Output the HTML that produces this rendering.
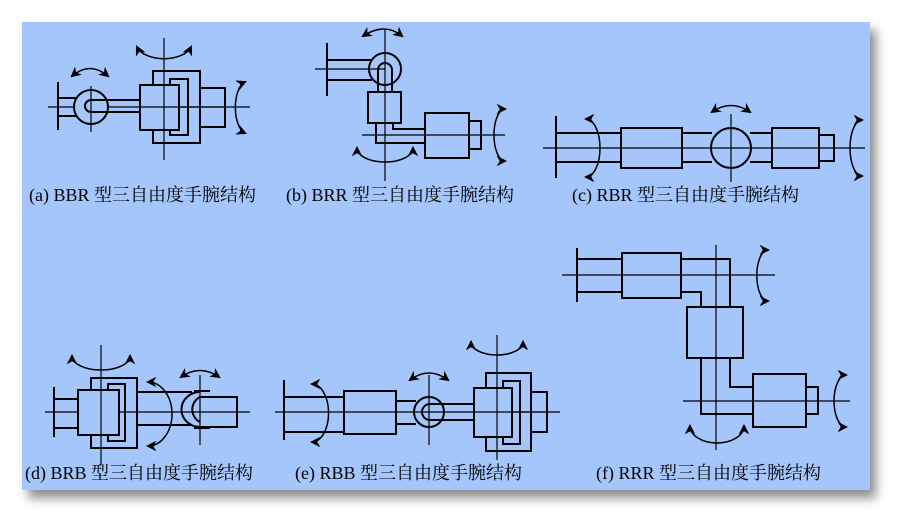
<!DOCTYPE html>
<html><head><meta charset="utf-8"><style>
html,body{margin:0;padding:0;background:#fff;}
body{width:912px;height:532px;position:relative;overflow:hidden;}
#panel{position:absolute;left:22px;top:22px;width:848px;height:468px;background:#a4c6fb;box-shadow:6px 8px 10px rgba(0,0,0,0.45);}
svg{position:absolute;left:0;top:0;}
text{font-family:"Liberation Serif","Noto Serif CJK SC",serif;font-size:18px;fill:#000;}
</style></head><body>
<div id="panel"></div>
<svg width="912" height="532" viewBox="0 0 912 532">
<defs>
<marker id="ah" viewBox="0 0 10 10" refX="8" refY="5" markerWidth="7" markerHeight="7" orient="auto-start-reverse"><path d="M0,0 L10,5 L0,10 L3,5 z" fill="#000"/></marker>
</defs>
<g fill="none" stroke="#000" stroke-width="2">
<!-- (a) -->
<line x1="48" y1="107" x2="250" y2="107" stroke-width="1.2"/>
<line x1="58" y1="82" x2="58" y2="130"/>
<rect x="58" y="98" width="18" height="18"/>
<circle cx="91" cy="107" r="17" fill="#a4c6fb"/>
<path d="M140,100 L91,100 A6,6 0 0 0 91,112 L140,112"/>
<line x1="91" y1="86" x2="91" y2="132" stroke-width="1.2"/>
<rect x="153" y="71" width="47" height="72"/>
<rect x="170" y="79" width="18" height="56"/>
<rect x="140" y="85" width="39" height="45" fill="#a4c6fb"/>
<rect x="200" y="88" width="25" height="39"/>
<line x1="164" y1="38" x2="164" y2="160" stroke-width="1.2"/>
<line x1="140" y1="107" x2="225" y2="107" stroke-width="1.2"/>
<path d="M137,47 A28,16 0 0 0 191,47" stroke-width="1.5" marker-start="url(#ah)" marker-end="url(#ah)"/>
<path d="M72,76 Q90,61 108,76" stroke-width="1.5" marker-start="url(#ah)" marker-end="url(#ah)"/>
<path d="M245,82 A12,26 0 0 0 245,133" stroke-width="1.5" marker-start="url(#ah)" marker-end="url(#ah)"/>
<!-- (b) -->
<line x1="327" y1="43" x2="327" y2="96"/>
<line x1="315" y1="69" x2="385" y2="69" stroke-width="1.2"/>
<path d="M327,60 L372,60 M327,80 L372,80"/>
<circle cx="385" cy="69" r="16"/>
<path d="M378,92 L378,70 A7,7 0 0 1 392,70 L392,92"/>
<rect x="368" y="92" width="33" height="31"/>
<line x1="385" y1="30" x2="385" y2="181" stroke-width="1.2"/>
<path d="M376,123 L376,143 L426,143 M393,123 L393,129 L426,129"/>
<line x1="362" y1="135" x2="505" y2="135" stroke-width="1.2"/>
<rect x="425" y="113" width="44" height="45"/>
<rect x="469" y="121" width="12" height="28"/>
<path d="M363,36 Q385,22 402,36" stroke-width="1.5" marker-start="url(#ah)" marker-end="url(#ah)"/>
<path d="M357,148 A28,14 0 0 0 413,148" stroke-width="1.5" marker-start="url(#ah)" marker-end="url(#ah)"/>
<path d="M505,109 A11,26 0 0 0 505,161" stroke-width="1.5" marker-start="url(#ah)" marker-end="url(#ah)"/>
<!-- (c) -->
<line x1="543" y1="148" x2="865" y2="148" stroke-width="1.2"/>
<line x1="556" y1="116" x2="556" y2="178"/>
<path d="M556,133 L621,133 M556,162 L621,162"/>
<rect x="621" y="128" width="61" height="40"/>
<path d="M682,133 L712,133 M682,162 L712,162 M750,133 L772,133 M750,162 L772,162"/>
<circle cx="731" cy="148" r="20"/>
<line x1="731" y1="114" x2="731" y2="182" stroke-width="1.2"/>
<rect x="772" y="128" width="47" height="40"/>
<rect x="819" y="135" width="15" height="26"/>
<path d="M586,119 A14,29 0 0 1 586,177" stroke-width="1.5" marker-start="url(#ah)" marker-end="url(#ah)"/>
<path d="M712,112 Q731,99 750,112" stroke-width="1.5" marker-start="url(#ah)" marker-end="url(#ah)"/>
<path d="M862,120 A12,28 0 0 0 862,176" stroke-width="1.5" marker-start="url(#ah)" marker-end="url(#ah)"/>
<!-- (d) -->
<line x1="45" y1="412" x2="250" y2="412" stroke-width="1.2"/>
<line x1="54" y1="387" x2="54" y2="437"/>
<path d="M54,399 L78,399 M54,428 L78,428"/>
<rect x="91" y="378" width="46" height="70"/>
<rect x="108" y="384" width="17" height="57"/>
<rect x="78" y="390" width="41" height="45" fill="#a4c6fb"/>
<path d="M137,392 L192,392 M137,425 L192,425"/>
<path d="M200,392 A18,17 0 0 0 200,427 L237,427 L237,397 L200,397 A14,14 0 0 0 200,422" />
<path d="M194,391 L210,391 M194,428 L210,428"/>
<line x1="101" y1="345" x2="101" y2="465" stroke-width="1.2"/>
<line x1="200" y1="375" x2="200" y2="445" stroke-width="1.2"/>
<path d="M72,356 A29,14 0 0 0 130,356" stroke-width="1.5" marker-start="url(#ah)" marker-end="url(#ah)"/>
<path d="M148,382 A24,32 0 0 1 148,446" stroke-width="1.5" marker-start="url(#ah)" marker-end="url(#ah)"/>
<path d="M181,377 Q200,364 219,377" stroke-width="1.5" marker-start="url(#ah)" marker-end="url(#ah)"/>
<!-- (e) -->
<line x1="275" y1="412" x2="560" y2="412" stroke-width="1.2"/>
<line x1="284" y1="380" x2="284" y2="440"/>
<path d="M284,397 L344,397 M284,432 L344,432"/>
<rect x="344" y="391" width="52" height="43"/>
<path d="M396,401 L416,401 M396,424 L416,424"/>
<circle cx="429" cy="412" r="15"/>
<path d="M474,404 L430,404 A8,8 0 0 0 430,420 L474,420"/>
<line x1="429" y1="375" x2="429" y2="445" stroke-width="1.2"/>
<rect x="486" y="373" width="45" height="78"/>
<rect x="503" y="381" width="17" height="63"/>
<rect x="474" y="388" width="38" height="49" fill="#a4c6fb"/>
<rect x="531" y="392" width="16" height="40"/>
<line x1="497" y1="335" x2="497" y2="460" stroke-width="1.2"/>
<line x1="474" y1="412" x2="547" y2="412" stroke-width="1.2"/>
<path d="M312,384 A16,28 0 0 1 312,442" stroke-width="1.5" marker-start="url(#ah)" marker-end="url(#ah)"/>
<path d="M410,380 Q429,366 448,380" stroke-width="1.5" marker-start="url(#ah)" marker-end="url(#ah)"/>
<path d="M471,342 A26,13 0 0 0 523,342" stroke-width="1.5" marker-start="url(#ah)" marker-end="url(#ah)"/>
<!-- (f) -->
<line x1="562" y1="275" x2="775" y2="275" stroke-width="1.2"/>
<line x1="577" y1="248" x2="577" y2="302"/>
<path d="M577,259 L622,259 M577,292 L622,292"/>
<rect x="622" y="253" width="59" height="45"/>
<path d="M681,259 L730,259 L730,307 M681,292 L701,292 L701,307"/>
<rect x="687" y="307" width="56" height="51"/>
<path d="M701,358 L701,414 L753,414 M730,358 L730,387 L753,387"/>
<rect x="753" y="374" width="53" height="53"/>
<rect x="806" y="387" width="12" height="27"/>
<line x1="683" y1="401" x2="850" y2="401" stroke-width="1.2"/>
<line x1="716" y1="245" x2="716" y2="450" stroke-width="1.2"/>
<path d="M768,250 A11,25 0 0 0 768,301" stroke-width="1.5" marker-start="url(#ah)" marker-end="url(#ah)"/>
<path d="M846,375 A12,26 0 0 0 846,427" stroke-width="1.5" marker-start="url(#ah)" marker-end="url(#ah)"/>
<path d="M690,426 A27,17 0 0 0 744,426" stroke-width="1.5" marker-start="url(#ah)" marker-end="url(#ah)"/>
</g>
<text x="29" y="201">(a) BBR 型三自由度手腕结构</text>
<text x="286" y="201">(b) BRR 型三自由度手腕结构</text>
<text x="572" y="201">(c) RBR 型三自由度手腕结构</text>
<text x="25" y="479">(d) BRB 型三自由度手腕结构</text>
<text x="295" y="479">(e) RBB 型三自由度手腕结构</text>
<text x="596" y="479">(f) RRR 型三自由度手腕结构</text>
</svg>
</body></html>
